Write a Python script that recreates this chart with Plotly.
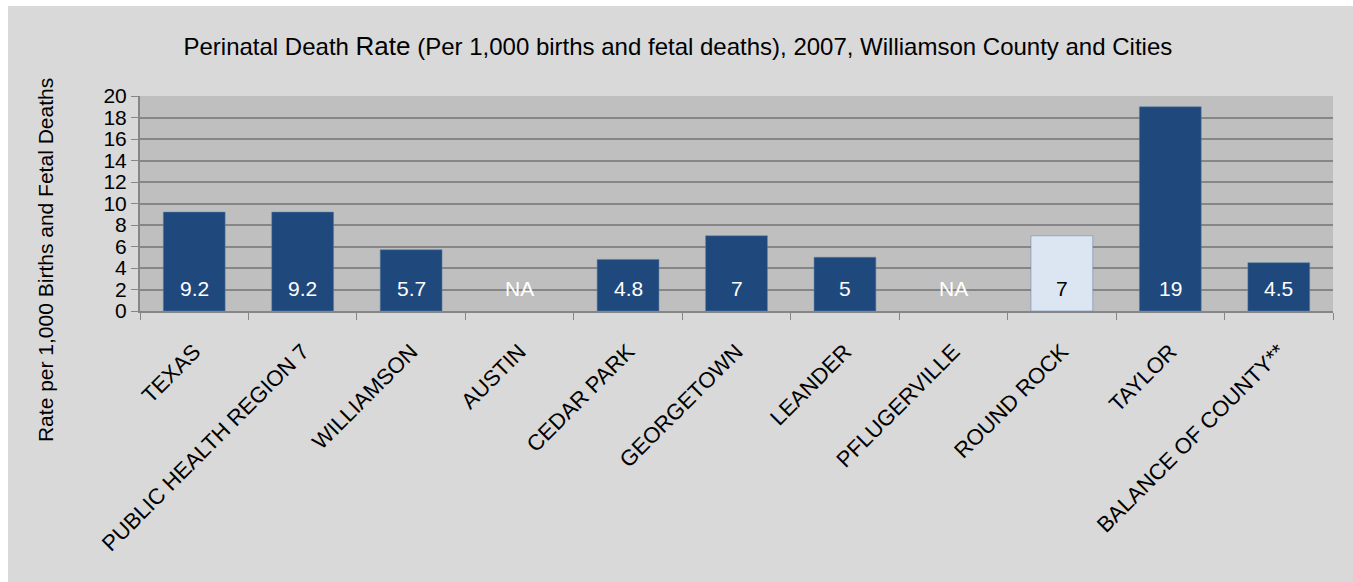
import plotly.graph_objects as go

# perinatal death rate per 1,000 births and fetal deaths, 2007
places = ["TEXAS", "PUBLIC HEALTH REGION 7", "WILLIAMSON", "AUSTIN", "CEDAR PARK",
          "GEORGETOWN", "LEANDER", "PFLUGERVILLE", "ROUND ROCK", "TAYLOR",
          "BALANCE OF COUNTY**"]
rates = [9.2, 9.2, 5.7, None, 4.8, 7, 5, None, 7, 19, 4.5]
labels = ["9.2", "9.2", "5.7", "NA", "4.8", "7", "5", "NA", "7", "19", "4.5"]
y_ticks = [0, 2, 4, 6, 8, 10, 12, 14, 16, 18, 20]

DARK = "#1f497d"
LIGHT = "#dce6f2"
FONT = "Liberation Sans, Arial"

bar_colors = [LIGHT if p == "ROUND ROCK" else DARK for p in places]

fig = go.Figure()
fig.add_trace(go.Bar(
    x=places, y=rates,
    marker=dict(color=bar_colors, line=dict(color="#5f7ea3", width=0.5)),
    hoverinfo="x+y",
))

# value labels sit near the bottom of each bar
for p, lab in zip(places, labels):
    fig.add_annotation(
        x=p, y=2.1, text=lab, showarrow=False, yanchor="middle",
        font=dict(family=FONT, size=21,
                  color="black" if p == "ROUND ROCK" else "white"),
    )

# y axis title placed by hand
fig.add_annotation(
    x=0, xref="paper", xshift=-95, xanchor="center",
    y=0.237, yref="paper", yanchor="middle",
    text="Rate per 1,000 Births and Fetal Deaths", textangle=-90, showarrow=False,
    font=dict(family=FONT, size=21, color="black"),
)

fig.update_layout(
    width=1353, height=582,
    margin=dict(l=140, r=20, t=96, b=271),
    paper_bgcolor="#d9d9d9",
    plot_bgcolor="#bfbfbf",
    bargap=0.43,
    showlegend=False,
    title=dict(
        text="Perinatal Death <span style='font-size:26px'>Rate</span> (Per 1,000 births and fetal deaths), 2007, Williamson County and Cities",
        x=0.501, xref="container", xanchor="center",
        y=1 - 47 / 582, yref="container", yanchor="middle",
        font=dict(family=FONT, size=24, color="black"),
    ),
    shapes=[
        # thin white frame on the top and left edges
        dict(type="rect", xref="paper", yref="paper", xsizemode="pixel", ysizemode="pixel",
             xanchor=0, yanchor=1, x0=-145, x1=1300, y0=90, y1=100,
             fillcolor="white", line=dict(width=0), layer="above"),
        dict(type="rect", xref="paper", yref="paper", xsizemode="pixel", ysizemode="pixel",
             xanchor=0, yanchor=0, x0=-145, x1=-132, y0=-280, y1=320,
             fillcolor="white", line=dict(width=0), layer="above"),
    ],
)

fig.update_xaxes(
    tickangle=-45,
    tickfont=dict(family=FONT, size=22, color="black"),
    ticklabelstandoff=17,
    showline=True, linecolor="#868686", linewidth=2,
    ticks="outside", tickson="boundaries", ticklen=7, tickcolor="#868686", tickwidth=1,
    showgrid=False,
)
fig.update_yaxes(
    range=[0, 20],
    tickvals=y_ticks,
    tickfont=dict(family=FONT, size=21, color="black"),
    showline=True, linecolor="#868686", linewidth=2,
    ticks="outside", ticklen=7, tickcolor="#868686",
    showgrid=True, gridcolor="#868686", gridwidth=1.5,
    zeroline=False,
)

fig.write_html("out.html", config={"displayModeBar": False},
               post_script="document.body.style.margin='0';")
